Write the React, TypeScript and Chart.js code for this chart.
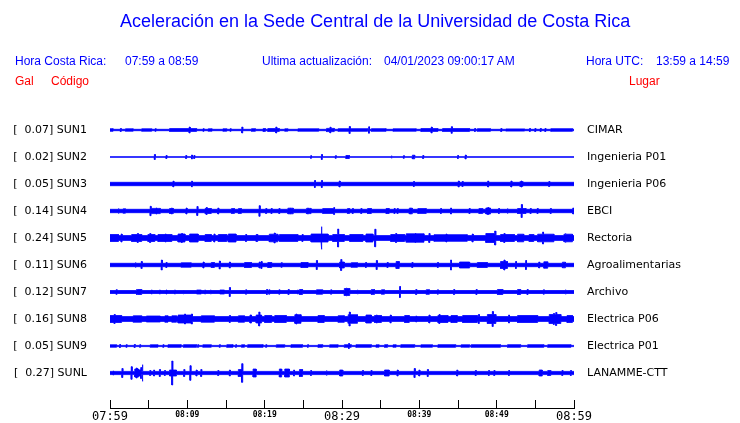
import React, { useEffect, useRef } from "react";
import { Chart, registerables } from "chart.js";

Chart.register(...registerables);

// ---------- data ----------
const stationCodes = ["SUN1", "SUN2", "SUN3", "SUN4", "SUN5", "SUN6", "SUN7", "SUN8", "SUN9", "SUNL"];
const peakGal = ["0.07", "0.02", "0.05", "0.14", "0.24", "0.11", "0.12", "0.16", "0.05", "0.27"];
const places = [
  "CIMAR", "Ingenieria P01", "Ingenieria P06", "EBCI", "Rectoria",
  "Agroalimentarias", "Archivo", "Electrica P06", "Electrica P01", "LANAMME-CTT",
];
// minutes after 07:59
const timeTicks = [0, 5, 10, 15, 20, 25, 30, 35, 40, 45, 50, 55, 60];
const timeTickLabels = ["07:59", "", "08:09", "", "08:19", "", "08:29", "", "08:39", "", "08:49", "", "08:59"];

// background (noise) half-amplitude of each trace, display units
const baseAmplitude = [0.7, 0.35, 1.7, 1.7, 2.4, 1.7, 1.5, 2.4, 0.6, 1.6];

// bursts: [start minute, end minute, half-amplitude]; spikes: [minute, half-amplitude]
const sun1Bursts = [[0, 0.4, 1.3], [2.0, 3.0, 1.2], [4.1, 5.4, 1.2], [7.7, 11.2, 1.4], [12.7, 13.2, 1.2], [14.6, 15.1, 1.2], [18.3, 18.8, 1.3], [19.8, 20.1, 1.4], [20.4, 21.9, 1.4], [22.6, 23.0, 1.2], [24.3, 27.0, 1.2], [28.0, 29.0, 1.6], [29.5, 33.3, 1.3], [33.8, 35.7, 1.3], [36.6, 39.6, 1.2], [40.2, 42.4, 1.4], [43.0, 46.5, 1.4], [47.5, 49.2, 1.3], [51.2, 53.6, 1.1], [57.0, 59.8, 1.3]];
const sun1Spikes = [[1.4, 1.5], [5.9, 1.3], [10.3, 3], [12.1, 1.3], [15.6, 1.3], [17.1, 3], [21.5, 3], [28.5, 2.8], [31.0, 3.5], [33.5, 3.2], [41.6, 3], [44.2, 3.3], [47.2, 1.5], [50.6, 1.5], [54.3, 1.5], [55.0, 1.5], [55.7, 1.5], [56.3, 1.5]];

const sun2Bursts = [[30.5, 30.8, 1.5], [39.1, 39.4, 1.8]];
const sun2Spikes = [[5.8, 2.5], [7.3, 1.5], [9.85, 1.5], [10.6, 2], [10.9, 1.5], [26.0, 1.3], [27.4, 2.5], [29.2, 1.3], [30.9, 1.5], [36.4, 1.3], [38.0, 1.3], [40.5, 1.5], [45.0, 1.5], [46.0, 2]];

const sun3Bursts = [[53.0, 53.4, 2.3]];
const sun3Spikes = [[8.2, 2.8], [10.6, 2.8], [26.5, 3.5], [27.4, 3.5], [29.7, 3], [39.3, 2.5], [45.1, 3], [45.6, 2.5], [48.9, 3], [51.9, 3], [53.2, 3], [56.8, 2.5]];

const sun4Bursts = [[1.7, 2.0, 2.2], [5.2, 6.5, 2.6], [7.7, 8.2, 2.5], [12.3, 13.1, 2.5], [15.7, 16.1, 2.4], [16.6, 17.0, 2.4], [23.0, 23.7, 2.8], [25.4, 26.0, 2.6], [27.5, 29.0, 2.4], [30.7, 31.0, 2.4], [33.3, 33.8, 2.5], [35.7, 36.1, 2.5], [38.7, 39.1, 2.8], [39.8, 40.9, 2.4], [47.7, 48.2, 2.4], [48.6, 49.2, 3.0], [52.7, 53.8, 2.5]];
const sun4Spikes = [[1.1, 2.5], [5.25, 4.7], [6.0, 3], [8.0, 3], [9.9, 3], [11.3, 4.5], [12.5, 3.5], [14.0, 3], [19.35, 5.3], [20.2, 2.5], [20.9, 2.5], [21.9, 2.5], [23.3, 3], [25.6, 3], [29.0, 3.5], [31.4, 2.5], [32.5, 2.5], [36.8, 2.5], [37.2, 2.5], [38.9, 3], [42.8, 2.5], [44.1, 3], [46.5, 2.5], [48.9, 3.5], [50.3, 2.5], [51.4, 2.5], [53.25, 6.5], [54.4, 2.5], [55.3, 2.5], [57.0, 2.5], [59.9, 3]];

const sun5Bursts = [[0, 1.1, 3.5], [2.8, 4.1, 3.5], [4.9, 5.8, 3.5], [6.2, 8.0, 3.5], [8.8, 9.7, 4], [10.3, 11.4, 4], [12.3, 13.1, 3.5], [14.0, 15.1, 3.5], [15.3, 16.3, 4], [18.9, 19.1, 3.5], [20.6, 21.7, 3.8], [21.9, 24.3, 3.4], [26.0, 28.2, 4], [28.8, 30.3, 3.5], [31.0, 32.7, 3.5], [33.1, 34.0, 4], [36.3, 38.1, 3.5], [38.3, 40.6, 4.2], [41.9, 46.2, 3.3], [48.6, 49.9, 4.5], [50.5, 52.3, 3.5], [52.7, 53.5, 3.8], [54.2, 54.8, 3.5], [55.3, 57.4, 3.8], [58.7, 59.8, 3.8]];
const sun5Spikes = [[1.5, 4], [3.6, 4.5], [5.2, 4.5], [7.2, 4], [9.3, 4.5], [13.5, 4], [17.6, 3.5], [21.3, 5], [24.9, 3.5], [27.35, 11.3], [29.5, 9], [34.3, 8.8], [37.0, 4.5], [39.5, 5], [41.3, 4.5], [43.5, 4], [46.9, 4], [49.8, 7], [51.0, 4.5], [56.0, 6], [58.9, 4.5]];

const sun6Bursts = [[9.2, 10.5, 2.2], [13.1, 13.5, 2.5], [17.4, 18.3, 2.5], [20.4, 20.9, 2.5], [24.7, 25.6, 2.5], [29.7, 30.3, 3], [31.2, 32.0, 2.3], [37.0, 37.4, 3.5], [45.2, 46.5, 3], [47.5, 48.8, 2.5], [50.5, 51.4, 3.5], [56.1, 56.6, 3.2], [58.5, 58.9, 2.8]];
const sun6Spikes = [[3.3, 2.5], [4.1, 3.5], [6.7, 5], [7.3, 2.5], [12.1, 3], [14.2, 4], [15.5, 3], [19.35, 3], [19.6, 3.5], [22.2, 2.3], [26.75, 4.5], [29.9, 5.5], [33.1, 2.5], [34.5, 4.5], [35.9, 2.5], [39.1, 2.5], [42.4, 2.5], [44.1, 5], [51.0, 5], [52.5, 3.5], [53.8, 4.5], [55.5, 3]];

const sun7Bursts = [[3.4, 4.1, 2.5], [11.2, 11.8, 2], [14.2, 14.8, 2], [24.5, 24.9, 2.5], [26.7, 27.5, 2.2], [30.3, 31.0, 3.5], [33.8, 34.2, 2.5], [35.1, 35.5, 2.2], [40.9, 41.3, 2.3], [50.1, 50.8, 2.5], [52.7, 53.1, 2.5]];
const sun7Spikes = [[0.86, 2.3], [3.5, 2.5], [5.4, 2], [6.45, 2], [7.3, 2], [8.4, 2], [9.5, 2], [12.3, 2], [13.0, 2.2], [15.5, 4.5], [17.6, 2.2], [20.3, 2.5], [20.6, 2.2], [21.9, 2.2], [23.1, 2.5], [24.3, 2], [28.6, 2.2], [30.6, 3.8], [32.0, 2.2], [34.0, 2.5], [37.5, 5.5], [39.6, 2.5], [42.4, 2.2], [44.5, 2.5], [47.4, 2.5], [54.0, 2.5], [56.1, 2.2], [58.9, 2.3]];

const sun8Bursts = [[0, 1.5, 3.5], [3.0, 4.1, 3.2], [4.7, 6.5, 3], [7.1, 7.5, 3.2], [8.0, 8.6, 3.2], [8.8, 10.5, 4], [11.8, 13.5, 3.2], [16.6, 17.4, 3.2], [18.1, 18.3, 4], [18.9, 19.6, 4], [20.0, 20.9, 3.5], [21.3, 22.8, 3.5], [23.9, 24.7, 4.3], [26.9, 27.7, 3.5], [29.5, 30.3, 3.3], [30.8, 32.0, 4.3], [33.1, 33.8, 4], [34.2, 35.1, 3.5], [38.1, 38.7, 3.5], [42.4, 43.7, 3.5], [44.1, 44.9, 3.5], [45.6, 47.5, 3.5], [48.8, 49.9, 4.5], [52.7, 55.3, 3.5], [56.8, 58.3, 4.5], [59.1, 59.8, 3.5]];
const sun8Spikes = [[0.6, 4.5], [9.7, 5], [10.6, 5], [15.5, 3.5], [19.3, 7], [24.1, 5], [31.0, 7], [34.5, 4], [36.3, 4], [39.6, 3], [41.3, 4], [42.6, 4.5], [47.7, 4.5], [49.5, 7.5], [51.6, 4], [57.4, 5.5], [57.7, 6.5]];

const sun9Bursts = [[0, 0.86, 1.2], [5.2, 6.2, 1.2], [7.5, 9.2, 1.3], [9.5, 11.2, 1.3], [12.0, 13.1, 1.2], [15.1, 15.9, 1.3], [17.0, 17.4, 1.2], [17.8, 19.8, 1.3], [21.5, 22.6, 1.2], [23.4, 24.9, 1.3], [26.9, 27.5, 1.3], [28.4, 29.5, 1.2], [30.3, 31.2, 1.3], [31.8, 33.8, 1.3], [34.4, 34.8, 1.2], [35.5, 35.9, 1.3], [36.6, 37.0, 1.2], [37.6, 39.4, 1.3], [40.2, 41.7, 1.2], [42.4, 44.7, 1.3], [45.4, 46.5, 1.2], [46.7, 50.5, 1.3], [51.4, 53.1, 1.3], [54.0, 56.1, 1.3], [56.6, 59.6, 1.3]];
const sun9Spikes = [[1.3, 1.5], [2.15, 1.3], [3.2, 1.5], [3.9, 1.3], [6.9, 1.3], [11.4, 1.3], [14.2, 1.3], [16.3, 1.3], [20.2, 1.3], [25.6, 1.3], [30.9, 2.5]];

const sunLBursts = [[3.2, 3.7, 4], [3.7, 4.0, 3], [7.7, 8.6, 3], [16.6, 17.0, 3.5], [18.5, 18.9, 4], [21.9, 22.2, 4], [22.6, 23.2, 4], [24.5, 24.9, 3.5], [29.7, 30.1, 3], [35.5, 36.1, 3], [55.5, 55.9, 3], [56.6, 57.0, 2.5]];
const sunLSpikes = [[0.43, 2], [1.6, 4.5], [2.8, 6.3], [3.45, 5], [4.0, 5.5], [4.2, 8.3], [5.2, 2.5], [5.7, 3], [6.45, 3.5], [7.1, 2.5], [8.05, 12], [9.6, 3.5], [10.4, 7.3], [11.2, 3], [11.8, 3.5], [14.0, 2.5], [15.5, 3], [17.1, 9.3], [18.7, 4], [23.8, 3], [26.0, 2.5], [28.0, 2.5], [32.7, 2.5], [33.8, 2.5], [37.2, 3], [39.4, 4.5], [40.0, 3], [41.1, 3.5], [44.9, 3], [47.3, 2.5], [49.0, 2.5], [49.7, 2.5], [51.6, 2.5], [58.5, 2.5], [59.6, 2.5]];

const traceBursts = [sun1Bursts, sun2Bursts, sun3Bursts, sun4Bursts, sun5Bursts, sun6Bursts, sun7Bursts, sun8Bursts, sun9Bursts, sunLBursts];
const traceSpikes = [sun1Spikes, sun2Spikes, sun3Spikes, sun4Spikes, sun5Spikes, sun6Spikes, sun7Spikes, sun8Spikes, sun9Spikes, sunLSpikes];

// ---------- layout / style ----------
const BLUE = "#0000ff";
const RED = "#ff0000";
const T_MIN = 0;
const T_MAX = 60;
const TRACE_GAP = 27; // y units between trace centres
const Y_RANGE = 305; // y units in the plot area
const SPIKE_WIDTH = 0.12; // minutes

function envelope(base: number, bursts: number[][], spikes: number[][]) {
  const ev = [
    ...bursts,
    ...spikes.map(([t, a]) => [t - SPIKE_WIDTH / 2, t + SPIKE_WIDTH / 2, a]),
  ];
  const cuts = new Set<number>([T_MIN, T_MAX]);
  ev.forEach(([s, e]) => {
    cuts.add(Math.max(T_MIN, Math.min(T_MAX, s)));
    cuts.add(Math.max(T_MIN, Math.min(T_MAX, e)));
  });
  const ts = Array.from(cuts).sort((a, b) => a - b);
  const pts: number[][] = [];
  for (let k = 0; k < ts.length - 1; k++) {
    const t0 = ts[k];
    const t1 = ts[k + 1];
    const mid = (t0 + t1) / 2;
    let amp = base;
    ev.forEach(([s, e, a]) => {
      if (s <= mid && mid < e && a > amp) amp = a;
    });
    pts.push([t0, amp], [t1, amp]);
  }
  return pts;
}

const noPad = (s: any) => {
  s.paddingTop = 0;
  s.paddingBottom = 0;
};

export default function App() {
  const canvasRef = useRef<HTMLCanvasElement | null>(null);

  useEffect(() => {
    const canvas = canvasRef.current;
    if (!canvas) return;
    const datasets: any[] = [];
    stationCodes.forEach((code, i) => {
      const c = (i + 1) * TRACE_GAP;
      const env = envelope(baseAmplitude[i], traceBursts[i], traceSpikes[i]);
      const common = {
        borderColor: BLUE,
        backgroundColor: BLUE,
        borderWidth: 0.8,
        pointRadius: 0,
        tension: 0,
        yAxisID: "y",
      };
      datasets.push({ ...common, label: code + " up", data: env.map(([x, a]) => ({ x, y: c - a })), fill: false });
      datasets.push({ ...common, label: code + " down", data: env.map(([x, a]) => ({ x, y: c + a })), fill: "-1" });
    });

    const centres = stationCodes.map((_, i) => ({ value: (i + 1) * TRACE_GAP }));

    const chart = new Chart(canvas, {
      type: "line",
      data: { datasets },
      options: {
        animation: false,
        responsive: false,
        devicePixelRatio: 1,
        events: [],
        layout: { autoPadding: false, padding: { top: 103, left: 0, right: 0, bottom: 0 } },
        plugins: { legend: { display: false }, tooltip: { enabled: false } },
        scales: {
          x: {
            type: "linear",
            min: T_MIN,
            max: T_MAX,
            afterBuildTicks: (s: any) => {
              s.ticks = timeTicks.map((v) => ({ value: v }));
            },
            afterFit: (s: any) => {
              s.height = 15;
              s.paddingLeft = 0;
              s.paddingRight = 0;
            },
            grid: { drawOnChartArea: false, drawTicks: true, tickLength: -8, color: "#000", lineWidth: 1 },
            border: { display: true, color: "#000", width: 1 },
            ticks: {
              autoSkip: false,
              maxRotation: 0,
              padding: 10,
              color: "#000",
              callback: (_v: any, i: number) => timeTickLabels[i],
              font: (ctx: any) =>
                ctx.index % 6 === 0
                  ? { family: "DejaVu Sans Mono", size: 12 }
                  : { family: "DejaVu Sans Mono", size: 8, weight: "bold" },
            },
          },
          y: {
            type: "linear",
            position: "left",
            min: 0,
            max: Y_RANGE,
            reverse: true,
            afterBuildTicks: (s: any) => {
              s.ticks = centres.map((t) => ({ ...t }));
            },
            afterFit: (s: any) => {
              s.width = 110;
              noPad(s);
            },
            grid: { display: false, drawTicks: false },
            border: { display: false },
            ticks: {
              autoSkip: false,
              padding: 23,
              color: "#000",
              font: { family: "DejaVu Sans", size: 11 },
              callback: (_v: any, i: number) => `[${peakGal[i].padStart(6, " ")}] ${stationCodes[i]}`,
            },
          },
          y2: {
            type: "linear",
            position: "right",
            min: 0,
            max: Y_RANGE,
            reverse: true,
            afterBuildTicks: (s: any) => {
              s.ticks = centres.map((t) => ({ ...t }));
            },
            afterFit: (s: any) => {
              s.width = 166;
              noPad(s);
            },
            grid: { display: false, drawTicks: false },
            border: { display: false },
            ticks: {
              autoSkip: false,
              padding: 13,
              color: "#000",
              font: { family: "DejaVu Sans", size: 11 },
              callback: (_v: any, i: number) => places[i],
            },
          },
        },
      } as any,
    });
    return () => chart.destroy();
  }, []);

  const txt = (left: number, top: number, color: string, size: number, s: string) => (
    <div
      style={{
        position: "absolute",
        left,
        top,
        color,
        fontSize: size,
        lineHeight: "14px",
        fontFamily: "'Liberation Sans', Arial, sans-serif",
        whiteSpace: "pre",
      }}
    >
      {s}
    </div>
  );

  return (
    <div style={{ position: "fixed", left: 0, top: 0, width: 740, height: 423, background: "#fff", overflow: "hidden" }}>
      <canvas ref={canvasRef} width={740} height={423} style={{ position: "absolute", left: 0, top: 0, width: 740, height: 423 }} />
      <div
        style={{
          position: "absolute",
          left: 120,
          top: 11,
          color: BLUE,
          fontSize: 18,
          lineHeight: "21px",
          fontFamily: "'Liberation Sans', Arial, sans-serif",
          whiteSpace: "pre",
        }}
      >
        Aceleración en la Sede Central de la Universidad de Costa Rica
      </div>
      {txt(15, 54, BLUE, 12, "Hora Costa Rica:")}
      {txt(125, 54, BLUE, 12, "07:59 a 08:59")}
      {txt(262, 54, BLUE, 12, "Ultima actualización:")}
      {txt(384, 54, BLUE, 12, "04/01/2023 09:00:17 AM")}
      {txt(586, 54, BLUE, 12, "Hora UTC:")}
      {txt(656, 54, BLUE, 12, "13:59 a 14:59")}
      {txt(15, 74, RED, 12, "Gal")}
      {txt(51, 74, RED, 12, "Código")}
      {txt(629, 74, RED, 12, "Lugar")}
    </div>
  );
}
